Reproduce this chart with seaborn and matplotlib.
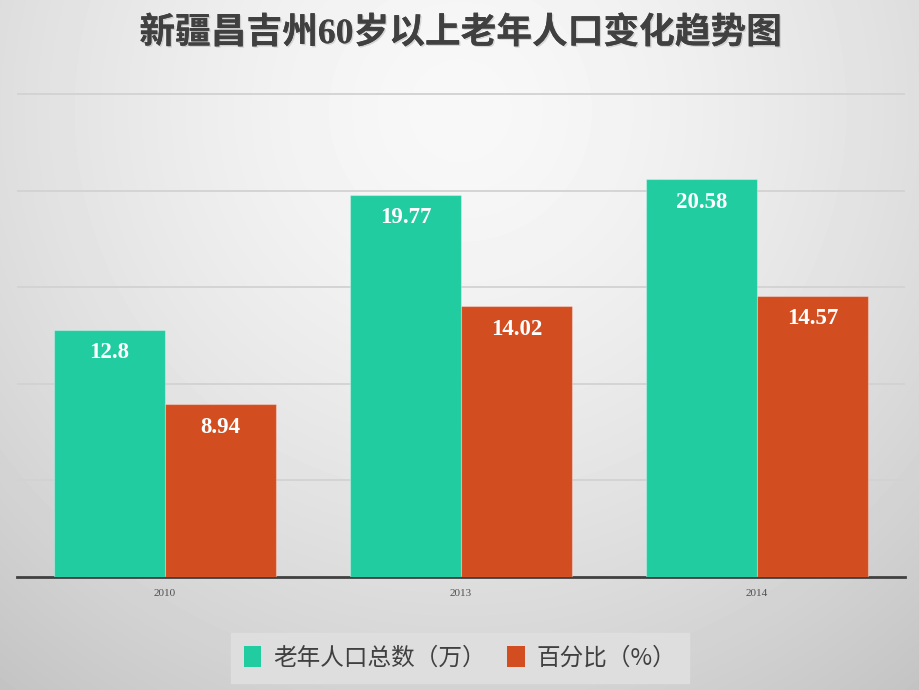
import numpy as np
import pandas as pd
import matplotlib
matplotlib.use("Agg")
import matplotlib.pyplot as plt
import seaborn as sns
from matplotlib import patheffects as pe
from matplotlib.patches import Patch
from matplotlib.font_manager import FontProperties

# ---- data ----
years = ["2010", "2013", "2014"]
elderly = [12.8, 19.77, 20.58]
percent = [8.94, 14.02, 14.57]
series_names = ["老年人口总数（万）", "百分比（%）"]
elderly_labels = ["12.8", "19.77", "20.58"]
percent_labels = ["8.94", "14.02", "14.57"]
title = "新疆昌吉州60岁以上老年人口变化趋势图"

df = pd.DataFrame({
    "年份": years * 2,
    "数值": elderly + percent,
    "系列": [series_names[0]] * 3 + [series_names[1]] * 3,
})

green = "#22CCA1"
orange = "#D24E21"

sns.set_theme(style="white")
plt.rcParams["font.family"] = ["Liberation Serif", "Noto Sans CJK SC", "DejaVu Sans"]

fig = plt.figure(figsize=(9.2, 6.9), dpi=100)

# radial gradient background
bg = fig.add_axes([0, 0, 1, 1], zorder=-10)
H, W = 690, 920
yy, xx = np.mgrid[0:H, 0:W]
r = np.hypot(xx - 460, yy - 110) / 732.0
g = np.clip(248 - 52 * r ** 1.5, 0, 255) / 255.0
bg.imshow(g, cmap="gray", vmin=0, vmax=1, aspect="auto", interpolation="bilinear")
bg.axis("off")

ymax = 25.05
ax = fig.add_axes([17 / 920, 1 - 577 / 690, 888 / 920, (ymax * 19.32) / 690])
ax.patch.set_alpha(0)

sns.barplot(data=df, x="年份", y="数值", hue="系列", palette=[green, orange],
            width=0.75, ax=ax, legend=False, saturation=1,
            edgecolor="#ffffff55", linewidth=0.8, zorder=3)

ax.set_ylim(0, ymax)
ax.set_xlim(-0.5, 2.5)
ax.set_yticks([5, 10, 15, 20, 25])
ax.set_yticklabels([])
ax.yaxis.grid(True, color="#d2d2d2", linewidth=1.3, zorder=0)
ax.set_axisbelow(True)
ax.tick_params(axis="y", length=0)
ax.tick_params(axis="x", length=0, pad=8.5, labelsize=8, labelcolor="#505050")
for lab in ax.get_xticklabels():
    lab.set_family("Liberation Serif")
ax.set_xlabel("")
ax.set_ylabel("")
for s in ["left", "right", "top"]:
    ax.spines[s].set_visible(False)
ax.spines["bottom"].set_color("#404040")
ax.spines["bottom"].set_linewidth(2)

for cont, labels in zip(ax.containers, [elderly_labels, percent_labels]):
    for bar, lab in zip(cont.patches, labels):
        ax.annotate(lab, (bar.get_x() + bar.get_width() / 2, bar.get_height()),
                    xytext=(0, -16.5), textcoords="offset points",
                    ha="center", va="center", color="white",
                    fontweight="bold", fontsize=16.5, family="Liberation Serif", zorder=5)

fig.text(0.5, 1 - 34 / 690, title, ha="center", va="center", fontsize=25.7,
         fontweight="bold", color="#404040",
         family=["Liberation Serif", "Noto Sans CJK SC"],
         path_effects=[pe.withSimplePatchShadow(offset=(1, -1),
                                                shadow_rgbFace="#999999", alpha=0.35),
                       pe.Normal()])

handles = [Patch(facecolor=green, edgecolor="none"),
           Patch(facecolor=orange, edgecolor="none")]
leg = fig.legend(handles, series_names, loc="center", bbox_to_anchor=(460 / 920, 1 - 658 / 690),
                 ncol=2, frameon=True, fancybox=False, facecolor="#dedede", edgecolor="#dedede",
                 framealpha=1, handlelength=0.75, handleheight=1.0, handletextpad=0.5,
                 columnspacing=0.9, borderpad=0.55,
                 prop=FontProperties(family=["Noto Sans CJK SC", "DejaVu Sans"], size=17))
for t in leg.get_texts():
    t.set_color("#404040")

fig.savefig("out.png", dpi=100)
